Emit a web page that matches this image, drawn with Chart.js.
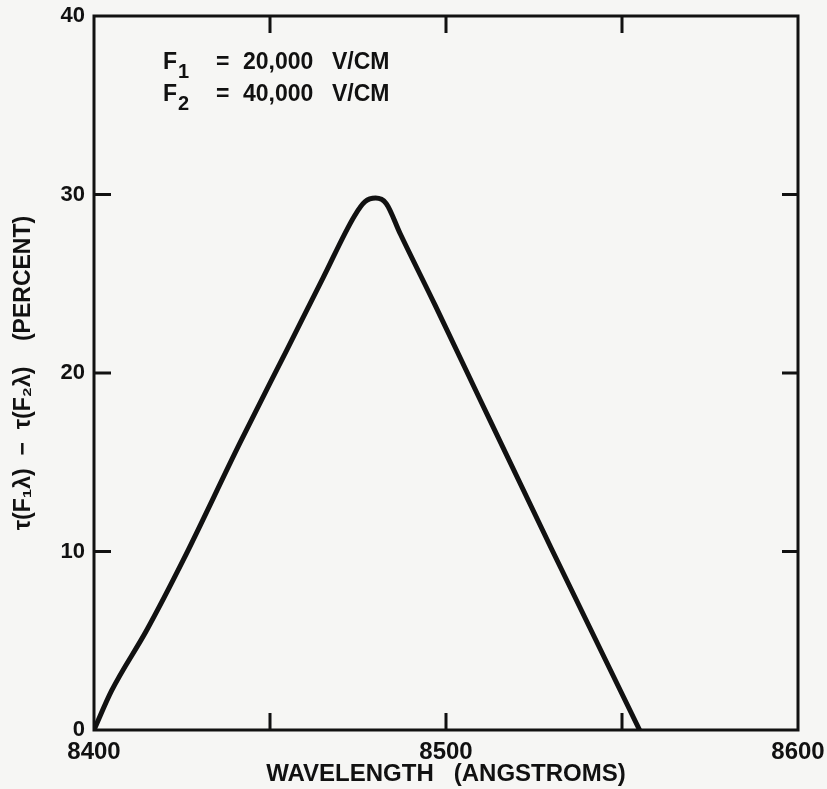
<!DOCTYPE html>
<html>
<head>
<meta charset="utf-8">
<script src="https://cdn.jsdelivr.net/npm/chart.js@4/dist/chart.umd.min.js"></script>
<style>
  body { margin: 0; background: #f6f6f4; }
  #wrap { position: relative; width: 827px; height: 789px; }
</style>
</head>
<body>
<div id="wrap"><canvas id="chart"></canvas></div>
<script>
// curve: wavelength (angstroms) vs difference (percent)
const wavelength = [8400, 8405, 8415, 8425.3, 8441.5, 8454.8, 8465, 8474, 8477, 8480, 8483, 8487, 8496.9, 8509.7, 8530.1, 8555];
const percent    = [0,    2.2,  5.6,  9.5,    16.1,   21.3,   25.3, 28.8, 29.6, 29.8, 29.5, 27.8, 23.8,   18.5,   10.1,   0];

const xLabels = [8400, 8500, 8600];
const fieldLines = [
  { sub: "1", value: "20,000", unit: "V/CM" },
  { sub: "2", value: "40,000", unit: "V/CM" },
];

const ink = "#111";
const family = "'Liberation Sans', Arial, sans-serif";

// frame, inward tick marks and the field note
const framePlugin = {
  id: "frame",
  afterDraw(chart) {
    const { ctx, chartArea: a, scales } = chart;
    ctx.save();
    ctx.strokeStyle = ink;
    ctx.lineWidth = 3;
    ctx.strokeRect(a.left, a.top, a.right - a.left, a.bottom - a.top);

    scales.x.ticks.forEach((t) => {
      if (t.value <= scales.x.min || t.value >= scales.x.max) return;
      const px = scales.x.getPixelForValue(t.value);
      ctx.beginPath();
      ctx.moveTo(px, a.bottom); ctx.lineTo(px, a.bottom - 17);
      ctx.moveTo(px, a.top); ctx.lineTo(px, a.top + 17);
      ctx.stroke();
    });
    scales.y.ticks.forEach((t) => {
      if (t.value <= scales.y.min || t.value >= scales.y.max) return;
      const py = scales.y.getPixelForValue(t.value);
      ctx.beginPath();
      ctx.moveTo(a.left, py); ctx.lineTo(a.left + 17, py);
      ctx.moveTo(a.right, py); ctx.lineTo(a.right - 16, py);
      ctx.stroke();
    });

    ctx.fillStyle = ink;
    ctx.textBaseline = "alphabetic";
    fieldLines.forEach((f, i) => {
      const base = 69 + i * 32;
      ctx.font = "bold 23px " + family;
      ctx.fillText("F", 163, base);
      ctx.fillText("=", 216, base);
      ctx.fillText(f.value, 243, base);
      ctx.fillText(f.unit, 332, base);
      ctx.font = "bold 20px " + family;
      ctx.fillText(f.sub, 178, base + 9);
    });
    ctx.restore();
  },
};

new Chart(document.getElementById("chart"), {
  type: "line",
  data: {
    datasets: [{
      data: wavelength.map((w, i) => ({ x: w, y: percent[i] })),
      borderColor: ink,
      borderWidth: 5,
      pointRadius: 0,
      cubicInterpolationMode: "monotone",
      fill: false,
    }],
  },
  options: {
    responsive: true,
    maintainAspectRatio: false,
    animation: false,
    layout: { padding: { top: 16, right: 29, left: 0, bottom: 0 } },
    plugins: { legend: { display: false }, tooltip: { enabled: false } },
    scales: {
      x: {
        type: "linear",
        min: 8400,
        max: 8600,
        grid: { display: false, drawTicks: false },
        border: { display: false },
        ticks: {
          stepSize: 50,
          autoSkip: false,
          maxRotation: 0,
          padding: 8,
          color: ink,
          font: { family, size: 24, weight: "bold" },
          callback: (v) => (xLabels.includes(v) ? String(v) : ""),
        },
        title: {
          display: true,
          text: "WAVELENGTH   (ANGSTROMS)",
          color: ink,
          font: { family, size: 24, weight: "bold" },
          padding: 0,
        },
        afterFit: (s) => {
          s.height = 59;
          s.paddingLeft = 0;
          s.paddingRight = 0;
        },
      },
      y: {
        min: 0,
        max: 40,
        grid: { display: false, drawTicks: false },
        border: { display: false },
        ticks: {
          stepSize: 10,
          padding: 9,
          color: ink,
          font: { family, size: 22, weight: "bold" },
        },
        title: {
          display: true,
          text: "\u03C4(F\u2081\u03BB)  \u2212  \u03C4(F\u2082\u03BB)    (PERCENT)",
          color: ink,
          font: { family, size: 23, weight: "bold" },
          padding: { top: 10, bottom: 0 },
        },
        afterFit: (s) => {
          s.width = 94;
          s.paddingTop = 0;
          s.paddingBottom = 0;
        },
      },
    },
  },
  plugins: [framePlugin],
});
</script>
</body>
</html>
